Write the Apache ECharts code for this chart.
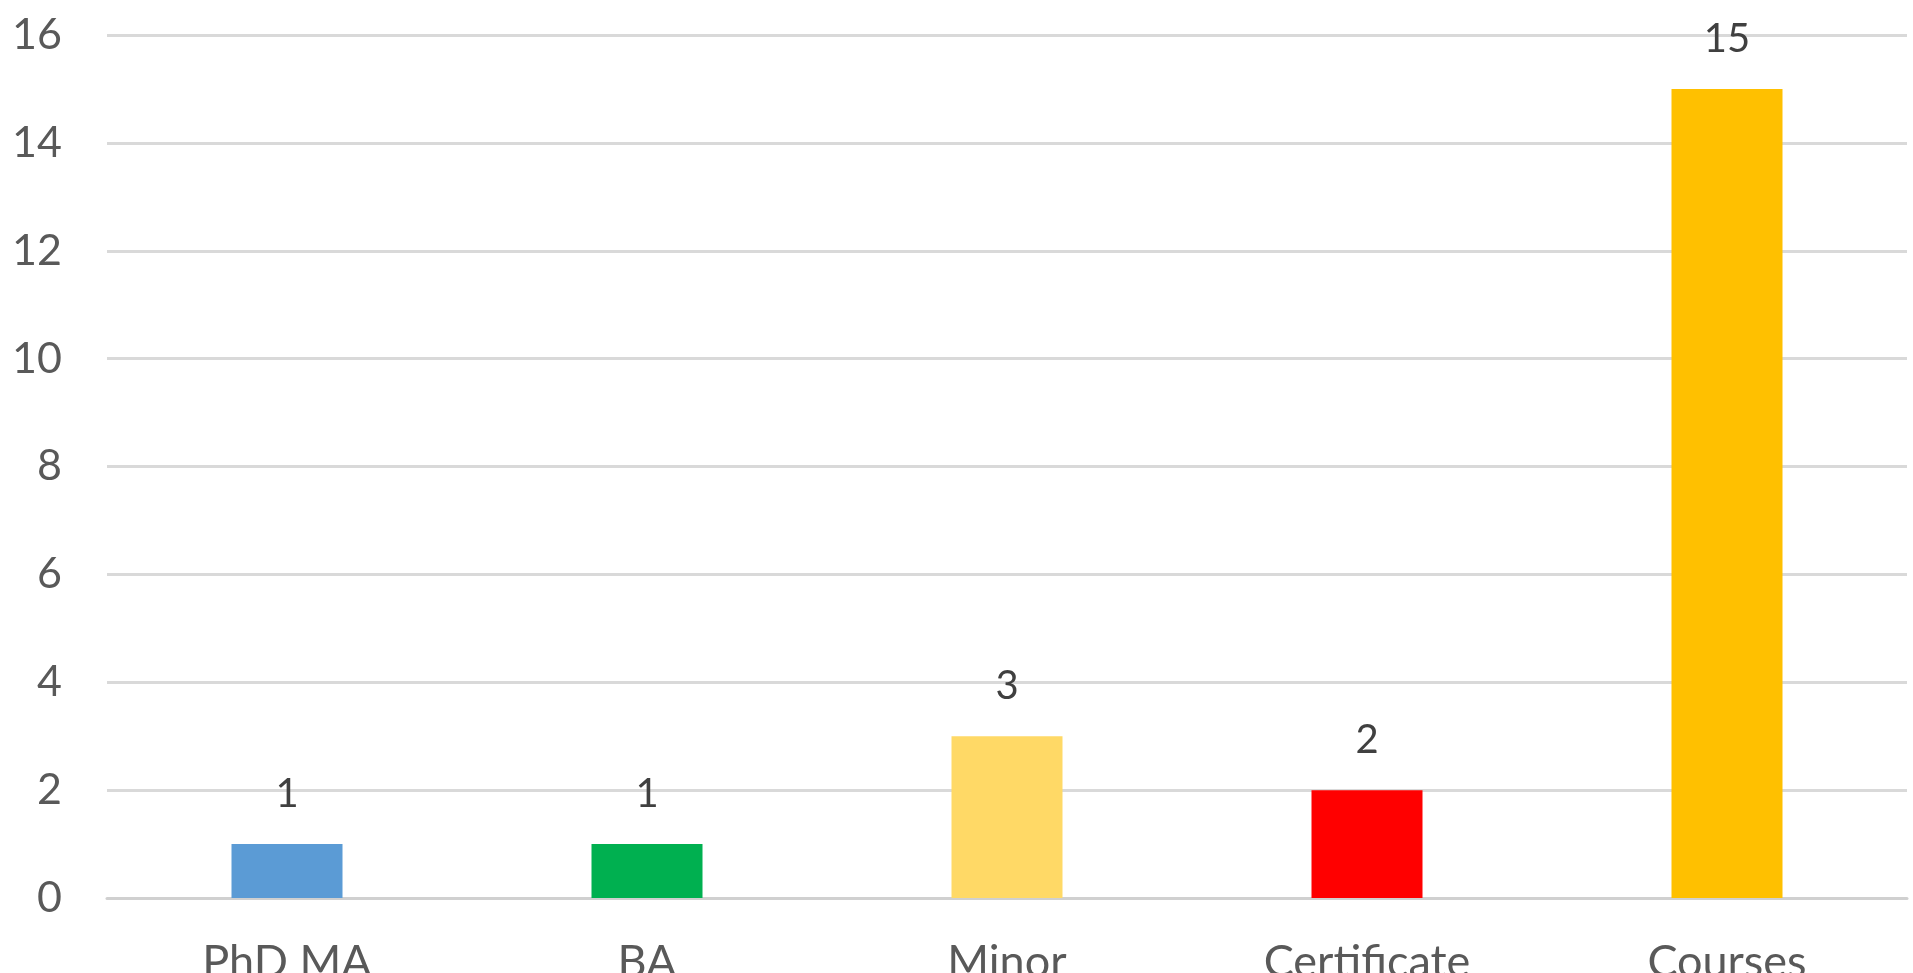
<!DOCTYPE html>
<html>
<head>
<meta charset="utf-8">
<script src="https://cdn.jsdelivr.net/npm/echarts@6/dist/echarts.min.js"></script>
<style>
  html, body { margin: 0; padding: 0; background: #fff; overflow: hidden; }
  #chart { width: 1913px; height: 973px; }
</style>
</head>
<body>
<div id="chart"></div>
<script>
const categories = ['PhD MA', 'BA', 'Minor', 'Certificate', 'Courses'];
const values = [1, 1, 3, 2, 15];
const barColors = ['#5B9BD5', '#00B050', '#FFD966', '#FF0000', '#FFC000'];

const chart = echarts.init(document.getElementById('chart'));

const option = {
  animation: false,
  grid: {
    left: 107,
    right: 6,
    top: 35,
    bottom: 75,
    containLabel: false,
    outerBoundsMode: 'none',
  },
  xAxis: {
    type: 'category',
    data: categories,
    axisLine: { show: true, lineStyle: { color: '#d0d0d0', width: 3 } },
    axisTick: { show: false },
    axisLabel: {
      color: '#595959',
      fontSize: 45,
      fontFamily: 'Lato',
      margin: 42,
    },
  },
  yAxis: {
    type: 'value',
    min: 0,
    max: 16,
    interval: 2,
    axisLine: { show: false },
    axisTick: { show: false },
    splitLine: { lineStyle: { color: '#d9d9d9', width: 3 } },
    axisLabel: {
      color: '#595959',
      fontSize: 43,
      fontFamily: 'Lato',
      margin: 45,
    },
  },
  series: [
    {
      type: 'bar',
      barWidth: 111,
      data: values.map((v, i) => ({
        value: v,
        itemStyle: { color: barColors[i] },
      })),
      label: {
        show: true,
        position: 'top',
        distance: 30,
        color: '#404040',
        fontSize: 40,
        fontFamily: 'Lato',
      },
    },
  ],
};

chart.setOption(option);
</script>
</body>
</html>
